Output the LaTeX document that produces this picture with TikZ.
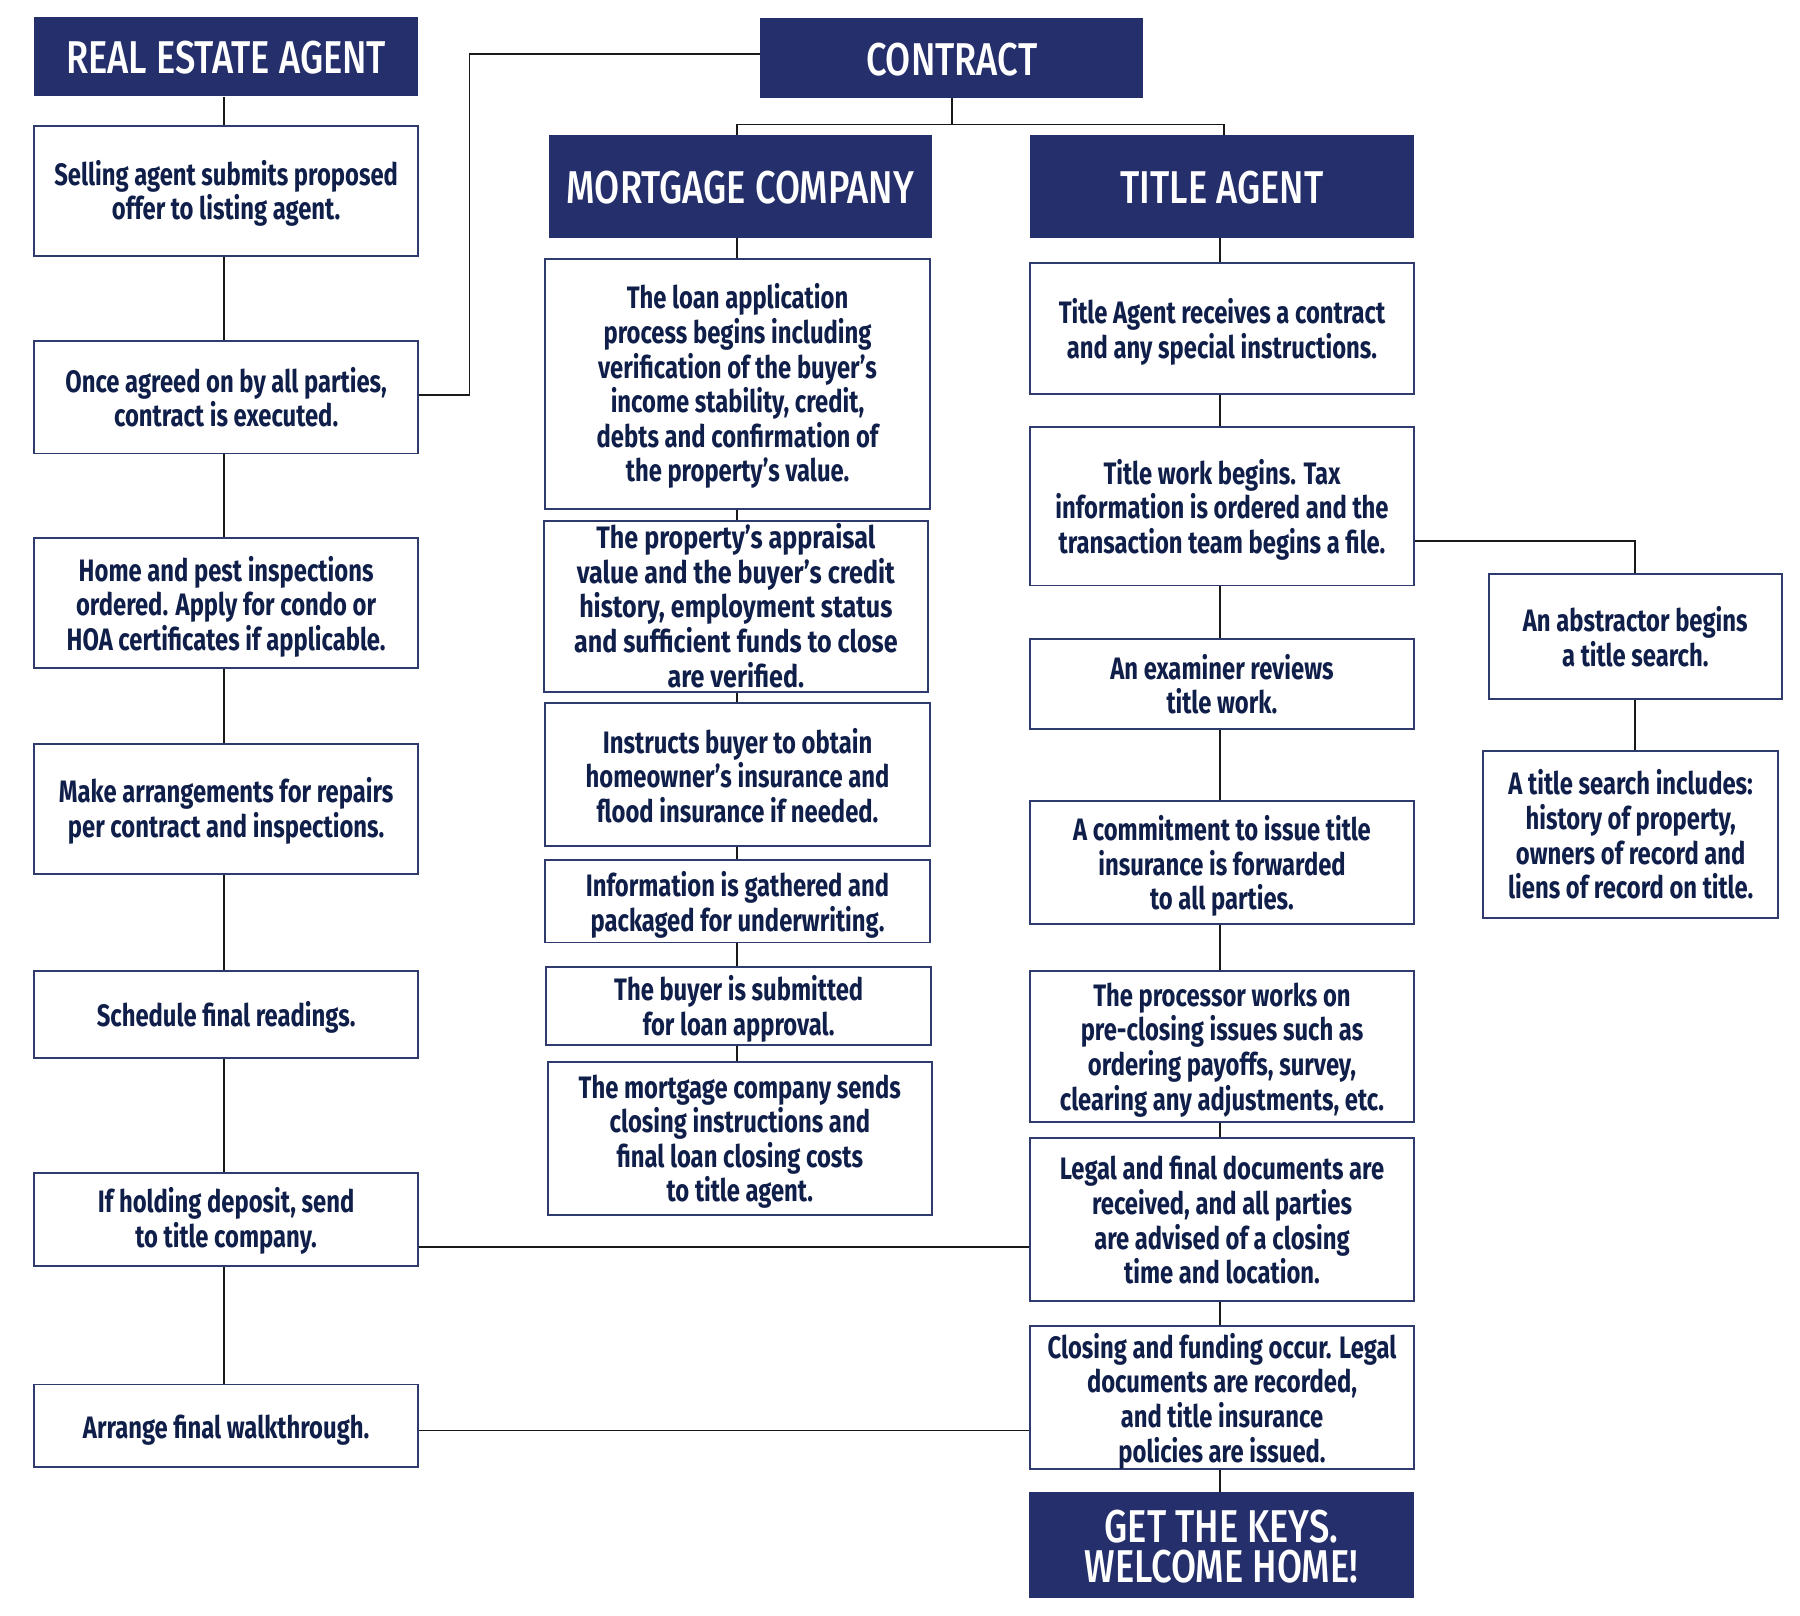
\documentclass[tikz,border=0pt]{standalone}
\usepackage{fontspec}
\usetikzlibrary{calc}
\newfontfamily\bodyf[FakeStretch=0.768]{Fira Sans}
\newfontfamily\bodywide[FakeStretch=0.81]{Fira Sans}
\newfontfamily\headf[FakeStretch=0.79,UprightFont=* Medium]{Fira Sans}
\definecolor{navy}{HTML}{252F6B}
\definecolor{ink}{HTML}{101F4A}
\definecolor{edge}{HTML}{2E3B6C}
\tikzset{
  x=1.14796pt,y=-1.14796pt,
  txtbox/.style={draw=edge,line width=1.9pt,fill=white,text=ink,inner sep=0pt,
     font=\bodyf\bfseries\fontsize{31}{34.6}\selectfont\def\mybl{34.6pt}},
  headbox/.style={fill=navy,text=white,inner sep=0pt,
     font=\headf\fontsize{46}{40}\selectfont\def\mybl{40pt}},
  link/.style={draw=black!90,line width=1.7pt}
}
% name x1 y1 x2 y2 style text-drop text
\newcommand\bx[8]{\node[#6,minimum width={(#4-#2)*1.14796pt},minimum height={(#5-#3)*1.14796pt}] (#1) at ({(#2+#4)/2},{(#3+#5)/2})
  {\raisebox{\dimexpr -#7pt*115/100\relax}[\height][\depth]{\begin{minipage}{\dimexpr(#4pt-#2pt)*112/100\relax}\baselineskip=\mybl\relax\centering #8\par\end{minipage}}};}
\begin{document}
\begin{tikzpicture}
\fill[white] (0,0) rectangle (1568,1406.85);
\useasboundingbox (0,0) rectangle (1568,1406.85);
\coordinate (xl) at (195,0);
\coordinate (xm) at (642,0);
\coordinate (xt) at (1063,0);
\coordinate (xth) at (1066,0);
\coordinate (xa) at (1424,0);
\coordinate (xc) at (409,0);
\coordinate (yc) at (829,108.5);
\coordinate (yk) at (0,47);
\coordinate (ye) at (0,344);
\coordinate (yt) at (0,471);
\coordinate (yd) at (0,1086);
\coordinate (yw) at (0,1246);
% left column
\bx{rea}{30}{15}{364}{84}{headbox}{1}{REAL ESTATE AGENT}
\bx{l1}{30}{110}{364}{223}{txtbox}{2}{Selling agent submits proposed\\offer to listing agent.}
\bx{l2}{30}{297}{364}{395}{txtbox}{0}{Once agreed on by all parties,\\contract is executed.}
\bx{l3}{30}{469}{364}{582}{txtbox}{3}{Home and pest inspections\\ordered. Apply for condo or\\HOA certificates if applicable.}
\bx{l4}{30}{648}{364}{761}{txtbox}{2}{Make arrangements for repairs\\per contract and inspections.}
\bx{l5}{30}{846}{364}{922}{txtbox}{2}{Schedule final readings.}
\bx{l6}{30}{1022}{364}{1103}{txtbox}{1}{If holding deposit, send\\to title company.}
\bx{l7}{30}{1206}{364}{1278}{txtbox}{4}{Arrange final walkthrough.}
% contract
\bx{con}{662}{16}{996}{85}{headbox}{1}{CONTRACT}
% mortgage column
\bx{mh}{478}{118}{812}{207}{headbox}{1}{MORTGAGE COMPANY}
\bx{m1}{475}{226}{810}{443}{txtbox}{2}{The loan application\\process begins including\\verification of the buyer’s\\income stability, credit,\\debts and confirmation of\\the property’s value.}
\bx{m2}{474}{454}{808}{603}{txtbox}{-1}{\bodywide\bfseries The property’s appraisal\\value and the buyer’s credit\\history, employment status\\and sufficient funds to close\\are verified.}
\bx{m3}{475}{612}{810}{737}{txtbox}{1}{Instructs buyer to obtain\\homeowner’s insurance and\\flood insurance if needed.}
\bx{m4}{475}{749}{810}{821}{txtbox}{3}{Information is gathered and\\packaged for underwriting.}
\bx{m5}{476}{842}{811}{910}{txtbox}{3}{The buyer is submitted\\for loan approval.}
\bx{m6}{477}{925}{812}{1058}{txtbox}{3}{The mortgage company sends\\closing instructions and\\final loan closing costs\\to title agent.}
% title column
\bx{th}{897}{118}{1232}{207}{headbox}{1}{TITLE AGENT}
\bx{t1}{897}{229}{1232}{343}{txtbox}{3}{Title Agent receives a contract\\and any special instructions.}
\bx{t2}{897}{372}{1232}{510}{txtbox}{3}{Title work begins. Tax\\information is ordered and the\\transaction team begins a file.}
\bx{t3}{897}{557}{1232}{635}{txtbox}{0}{An examiner reviews\\title work.}
\bx{t4}{897}{698}{1232}{805}{txtbox}{3}{A commitment to issue title\\insurance is forwarded\\to all parties.}
\bx{t5}{897}{846}{1232}{977}{txtbox}{3}{The processor works on\\pre-closing issues such as\\ordering payoffs, survey,\\clearing any adjustments, etc.}
\bx{t6}{897}{991}{1232}{1133}{txtbox}{1}{Legal and final documents are\\received, and all parties\\are advised of a closing\\time and location.}
\bx{t7}{897}{1155}{1232}{1280}{txtbox}{3}{Closing and funding occur. Legal\\documents are recorded,\\and title insurance\\policies are issued.}
\bx{keys}{896}{1300}{1232}{1392}{headbox}{1}{GET THE KEYS.\\WELCOME HOME!}
% abstractor
\bx{a1}{1297}{500}{1552}{609}{txtbox}{0}{An abstractor begins\\a title search.}
\bx{a2}{1292}{654}{1549}{800}{txtbox}{0}{A title search includes:\\history of property,\\owners of record and\\liens of record on title.}
% connectors
\foreach \a/\b in {rea/l1,l1/l2,l2/l3,l3/l4,l4/l5,l5/l6,l6/l7}
  \draw[link] (\a.south -| xl) -- (\b.north -| xl);
\foreach \a/\b in {mh/m1,m1/m2,m2/m3,m3/m4,m4/m5,m5/m6}
  \draw[link] (\a.south -| xm) -- (\b.north -| xm);
\foreach \a/\b in {th/t1,t1/t2,t2/t3,t3/t4,t4/t5,t5/t6,t6/t7,t7/keys}
  \draw[link] (\a.south -| xt) -- (\b.north -| xt);
\draw[link] (a1.south -| xa) -- (a2.north -| xa);
\draw[link] (l2.east |- ye) -| (xc |- yk) -- (con.west |- yk);
\draw[link] (con.south -| yc) -- (yc);
\draw[link] (mh.north -| xm) |- (yc) -| (th.north -| xth);
\draw[link] (t2.east |- yt) -| (a1.north -| xa);
\draw[link] (l6.east |- yd) -- (t6.west |- yd);
\draw[link] (l7.east |- yw) -- (t7.west |- yw);
\end{tikzpicture}
\end{document}
